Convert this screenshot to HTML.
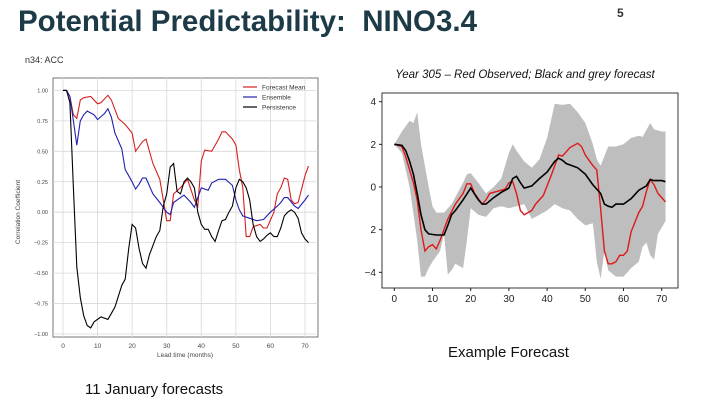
<!DOCTYPE html>
<html><head><meta charset="utf-8"><style>
body{margin:0;width:720px;height:405px;background:#fff;overflow:hidden;position:relative;font-family:"Liberation Sans",sans-serif}
.t{position:absolute;white-space:nowrap}
</style></head><body>
<div class="t" style="left:18px;top:5px;font-size:29.5px;font-weight:bold;color:#1d3a47;font-family:'Liberation Sans',sans-serif">Potential Predictability:&nbsp; NINO3.4</div>
<div class="t" style="left:617px;top:6px;font-size:12px;font-weight:bold;color:#333">5</div>
<div class="t" style="left:448px;top:344px;font-size:15px;color:#111">Example Forecast</div>
<div class="t" style="left:85px;top:381px;font-size:15px;color:#111">11 January forecasts</div>
<svg id="s" width="720" height="405" style="position:absolute;left:0;top:0"></svg>
<script>
// Left chart data (ACC)
const redM=[0,1,2,3,4,5,6,8,10,11,13,14,16,18,20,21,23,24,26,28,29,30,31,32,34,36,38,39,40,41,43,45,46,47,49,50,51,52,53,54,55,57,58,59,61,62,63,64,65,66,67,68,70,71];
const redV=[1,1,.95,.8,.77,.92,.94,.95,.89,.9,.96,.92,.77,.72,.65,.5,.58,.6,.4,.27,.1,-.07,-.07,.15,.2,.27,.1,.05,.42,.51,.5,.6,.66,.66,.6,.55,.35,.2,-.2,-.2,-.12,-.1,-.13,-.13,0,.15,.2,.28,.27,.1,.07,.08,.3,.38];
const bluM=[0,1,2,3,4,5,6,7,9,10,12,13,14,15,17,18,19,20,21,22,23,24,26,28,29,30,31,32,34,35,37,38,40,42,43,45,47,49,50,51,52,54,56,58,60,62,63,64,65,67,68,70,71];
const bluV=[1,1,.95,.75,.55,.75,.8,.83,.8,.76,.81,.85,.78,.65,.52,.35,.3,.25,.19,.23,.28,.28,.15,.08,.04,0,-.02,.08,.12,.14,.08,.04,.2,.18,.24,.27,.27,.22,.1,.02,-.03,-.05,-.07,-.06,0,.05,.08,.12,.12,.05,.03,.1,.14];
const perM=[0,1,2,3,4,5,6,7,8,9,11,13,14,15,17,18,19,20,21,22,23,24,25,27,28,29,30,31,32,33,34,35,36,37,38,39,40,41,42,43,44,45,46,47,48,49,50,51,52,53,54,55,56,57,58,59,60,61,62,63,64,65,66,67,68,69,70,71];
const perV=[1,1,.9,.2,-.45,-.7,-.85,-.93,-.95,-.9,-.86,-.88,-.83,-.78,-.6,-.55,-.3,-.1,-.13,-.3,-.42,-.46,-.35,-.2,-.15,.05,.15,.37,.4,.17,.15,.25,.28,.25,.2,0,-.1,-.14,-.14,-.2,-.24,-.15,-.07,-.06,0,.05,.2,.27,.25,.2,.1,-.1,-.2,-.24,-.22,-.19,-.17,-.2,-.2,-.13,-.03,0,.02,0,-.05,-.17,-.22,-.25];
const leftYTicks=[1,.75,.5,.25,0,-.25,-.5,-.75,-1];
const leftYLabels=["1.00","0.75","0.50","0.25","0.00","\u22120.25","\u22120.50","\u22120.75","\u22121.00"];
const xTicks=[0,10,20,30,40,50,60,70];
// Right chart data (example forecast)
const fcM=[0,2,3,4,5,6,7,8,9,11,13,14,15,16,18,20,22,23,24,26,28,30,31,32,33,34,36,38,40,42,43,44,45,48,50,52,54,55,56,57,58,60,62,64,66,67,68,70,71];
const fcV=[2,1.95,1.7,1.2,.6,-.3,-1.3,-2,-2.2,-2.25,-2.25,-1.8,-1.3,-1.1,-.6,-.05,-.6,-.8,-.8,-.5,-.25,-.05,.4,.5,.2,-.05,.05,.4,.7,1.2,1.35,1.25,1.1,.9,.6,.1,-.3,-.8,-.9,-.95,-.8,-.8,-.55,-.15,.05,.35,.3,.3,.25];
const obM=[0,2,3,5,6,7,8,9,10,11,12,14,16,18,19,20,21,23,24,25,27,29,30,31,32,33,34,36,37,39,41,43,44,46,48,49,50,52,53,54,55,56,57,58,59,60,61,62,64,65,66,67,68,69,71];
const obV=[2,1.9,1.4,.2,-.6,-2,-3,-2.8,-2.7,-2.9,-2.5,-1.5,-.8,-.3,.15,.15,-.3,-.8,-.6,-.3,-.2,-.1,.2,.25,-.3,-1.1,-1.3,-1.1,-.8,-.4,.5,1.5,1.45,1.85,2.05,1.9,1.5,1,.8,-1,-3,-3.6,-3.6,-3.5,-3.2,-3.2,-3,-2.1,-1.2,-.9,-.2,.35,.1,-.3,-.7];
const upM=[0,2,4,5,6,7,9,10,11,13,15,18,19,20,22,24,26,28,30,31,32,34,36,38,40,42,44,46,48,50,52,53,54,56,58,60,62,64,65,67,68,70,71];
const upV=[2,2.6,3.1,3,3.5,2,0,-.9,-1.2,-1.2,-.8,.2,.6,.65,.2,-.3,0,.4,1.6,2,1.7,1.2,.9,1.3,2.3,3.9,3.85,3.9,3.5,3,2,1.3,1,1.9,1.9,2,2.3,2.4,2.35,3,2.7,2.6,2.6];
const loM=[0,2,4,6,7,8,9,10,12,13,14,15,16,18,19,20,22,24,26,28,30,32,34,36,38,40,42,44,46,48,50,52,53,54,55,56,58,60,62,64,65,66,67,68,69,71];
const loV=[2,1.6,0,-2.5,-4.2,-4.2,-3.8,-3.5,-3,-2.2,-4.1,-3.9,-3.6,-3.8,-2.5,-1,-1.3,-1.4,-1,-.9,-1,-.9,-.8,-1.5,-1.3,-1.1,-.8,-1,-1.1,-1.5,-1.8,-1.7,-3.5,-4.3,-3,-3.9,-4.2,-4.2,-3.8,-3.5,-2.8,-2.6,-3.2,-3.4,-2.2,-1.6];
const rightYTicks=[4,2,0,-2,-4];
const rightYLabels=["4","2","0","2","\u22124"];

const NS="http://www.w3.org/2000/svg",svg=document.getElementById('s');
function mk(tag,at,parent){const e=document.createElementNS(NS,tag);for(const k in at)e.setAttribute(k,at[k]);(parent||svg).appendChild(e);return e;}
function pts(M,V,X,Y){return M.map((m,i)=>X(m).toFixed(1)+","+Y(V[i]).toFixed(1)).join(" ");}

// ---- Left chart
const lx=m=>63+m*242/70, ly=v=>212.2-v*121.8;
const gL=mk('g',{});


let t=mk('text',{x:25,y:63,'font-size':9,fill:'#333'},gL);t.textContent="n34: ACC";


mk('rect',{x:53,y:78,width:265,height:259,fill:'#fff',stroke:'#555','stroke-width':0.8},gL);
xTicks.forEach(v=>{mk('line',{x1:lx(v),x2:lx(v),y1:78,y2:337,stroke:'#d8d8d8','stroke-width':0.8},gL);
 const tx=mk('text',{x:lx(v),y:348,'font-size':6.5,fill:'#444','text-anchor':'middle'},gL);tx.textContent=v;
 
 });
leftYTicks.forEach((v,i)=>{mk('line',{x1:53,x2:318,y1:ly(v),y2:ly(v),stroke:'#d8d8d8','stroke-width':0.8},gL);
 const tx=mk('text',{x:48,y:ly(v)+2,'font-size':5.5,fill:'#444','text-anchor':'end'},gL);tx.textContent=leftYLabels[i];
 
 });
t=mk('text',{x:185,y:357,'font-size':6.5,fill:'#444','text-anchor':'middle'},gL);t.textContent="Lead time (months)";


t=mk('text',{x:0,y:0,'font-size':6.5,fill:'#444','text-anchor':'middle',transform:'translate(20,212) rotate(-90)'},gL);t.textContent="Correlation Coefficient";


[[redM,redV,'#d62020','forecast-mean-line'],[bluM,bluV,'#2020b0','ensemble-line'],[perM,perV,'#000','persistence-line']].forEach(s=>{
 const p=mk('polyline',{points:pts(s[0],s[1],lx,ly),fill:'none',stroke:s[2],'stroke-width':1.1},gL);
 
 });
[['Forecast Mean','#d62020'],['Ensemble','#2020b0'],['Persistence','#000']].forEach((e,i)=>{
 const y=87+i*10;
 mk('line',{x1:243,x2:257,y1:y,y2:y,stroke:e[1],'stroke-width':1.2},gL);
 const tx=mk('text',{x:262,y:y+2.5,'font-size':6.5,fill:'#333'},gL);tx.textContent=e[0];
 
 });

// ---- Right chart
const rx=m=>394.3+m*267.4/70, ry=v=>187-v*21.33;
const gR=mk('g',{});


t=mk('text',{x:525,y:78,'font-size':11.5,fill:'#111','font-style':'italic','text-anchor':'middle'},gR);t.textContent="Year 305 \u2013 Red Observed; Black and grey forecast";


const band=mk('polygon',{points:pts(upM,upV,rx,ry)+" "+pts(loM.slice().reverse(),loV.slice().reverse(),rx,ry),fill:'#bebebe',stroke:'none'},gR);


let p=mk('polyline',{points:pts(obM,obV,rx,ry),fill:'none',stroke:'#e01818','stroke-width':1.4},gR);


p=mk('polyline',{points:pts(fcM,fcV,rx,ry),fill:'none',stroke:'#000','stroke-width':1.6},gR);


mk('rect',{x:382,y:93,width:296,height:195,fill:'none',stroke:'#222','stroke-width':0.9},gR);
xTicks.forEach(v=>{mk('line',{x1:rx(v),x2:rx(v),y1:288,y2:291,stroke:'#222'},gR);
 const tx=mk('text',{x:rx(v),y:302,'font-size':10,fill:'#222','text-anchor':'middle'},gR);tx.textContent=v;
 
 });
rightYTicks.forEach((v,i)=>{mk('line',{x1:379,x2:382,y1:ry(v),y2:ry(v),stroke:'#222'},gR);
 const tx=mk('text',{x:376,y:ry(v)+3.5,'font-size':10,fill:'#222','text-anchor':'end'},gR);tx.textContent=rightYLabels[i];
 
 });
</script>
</body></html>
